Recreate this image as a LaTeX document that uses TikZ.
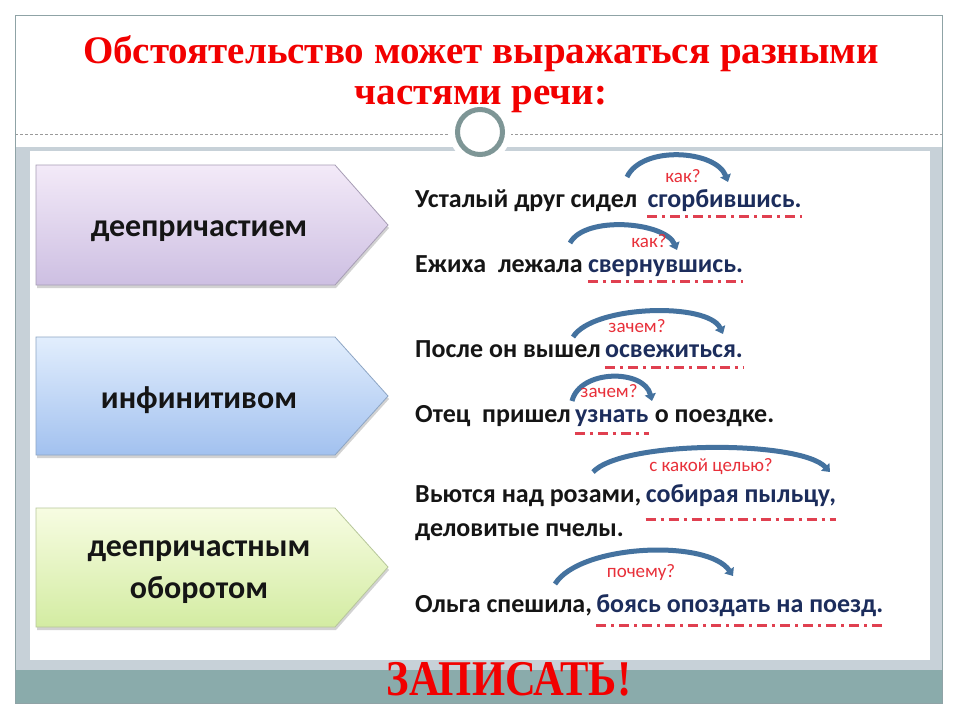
\documentclass[tikz,border=0pt]{standalone}
\usepackage{fontspec}
\setmainfont{Liberation Serif}
\newfontfamily\calfont{Carlito}
\newfontfamily\titlefont{Liberation Serif}
\newfontfamily\zapfont[FakeStretch=0.85]{Liberation Serif}
\usetikzlibrary{arrows.meta,shadows}
\definecolor{titlered}{HTML}{F20000}
\definecolor{framegray}{HTML}{8FA3A6}
\definecolor{bandgray}{HTML}{C7D1D8}
\definecolor{bandteal}{HTML}{8AABAB}
\definecolor{ringgray}{HTML}{7E9696}
\definecolor{dashgray}{HTML}{9A9A9A}
\definecolor{navyword}{HTML}{1C2D5C}
\definecolor{blacktext}{HTML}{151515}
\definecolor{arcblue}{HTML}{44729F}
\definecolor{qred}{HTML}{E8303A}
\definecolor{ulred}{HTML}{E04050}
\definecolor{lavtop}{HTML}{F3EAF8}
\definecolor{lavbot}{HTML}{CDBFE2}
\definecolor{lavdraw}{HTML}{A79DB5}
\definecolor{blutop}{HTML}{E2EEFD}
\definecolor{blubot}{HTML}{A2C1EF}
\definecolor{bludraw}{HTML}{8DA5C4}
\definecolor{grntop}{HTML}{F7FCE2}
\definecolor{grnbot}{HTML}{D3ECA2}
\definecolor{grndraw}{HTML}{B7C79A}
\tikzset{
  titletext/.style={inner sep=0pt, anchor=base, text=titlered,
    font=\titlefont\bfseries\fontsize{39}{39}\selectfont},
  bigtext/.style={inner sep=0pt, anchor=base, text=titlered,
    font=\zapfont\bfseries\fontsize{50}{50}\selectfont},
  boxshape/.style={line width=0.8pt, drop shadow={opacity=0.35, shadow xshift=1pt, shadow yshift=-3pt}},
  boxlabel/.style={inner sep=0pt, anchor=base, text=blacktext, align=center,
    font=\calfont\bfseries\fontsize{32}{42}\selectfont},
  sent/.style={inner sep=0pt, anchor=base west, text=blacktext,
    font=\calfont\bfseries\fontsize{26}{33}\selectfont},
  navy/.style={sent, text=navyword},
  qlabel/.style={inner sep=0pt, anchor=base, text=qred,
    font=\calfont\fontsize{19}{19}\selectfont},
  arcline/.style={draw=arcblue, line width=5pt, -{Triangle[length=7pt,width=11pt]}},
  ulline/.style={draw=ulred, line width=3pt, dash pattern=on 10pt off 5pt on 3pt off 5pt},
}
\begin{document}
\begin{tikzpicture}[x=1pt,y=-1pt]
\useasboundingbox (0,0) rectangle (960,720);
\fill[white] (0,0) rectangle (960,720);
% slide frame
\fill[bandgray] (15,147) rectangle (942,670);
\fill[bandteal] (15,670) rectangle (942,703);
\fill[white] (30,151) rectangle (930,660);
\draw[dashgray, line width=1pt, dash pattern=on 3pt off 2pt] (15,134) -- (942,134);
\draw[framegray, line width=1pt] (15,15) rectangle (942,703);
% ring
\fill[white] (480,132) circle[radius=31pt];
\draw[ringgray, line width=5pt, fill=white] (480,132) circle[radius=22.5pt];
% title
\node[titletext] (t1) at (481,63) {Обстоятельство может выражаться разными};
\node[titletext] (t2) at (481,104) {частями речи:};
% boxes
\path[boxshape, draw=lavdraw, top color=lavtop, bottom color=lavbot]
  (36,165) -- (335,165) -- (388,225) -- (335,285) -- (36,285) -- cycle;
\path[boxshape, draw=bludraw, top color=blutop, bottom color=blubot]
  (36,337) -- (335,337) -- (388,396) -- (335,455) -- (36,455) -- cycle;
\path[boxshape, draw=grndraw, top color=grntop, bottom color=grnbot]
  (36,508) -- (335,508) -- (388,567) -- (335,627) -- (36,627) -- cycle;
\node[boxlabel] (b1) at (199,236) {деепричастием};
\node[boxlabel] (b2) at (199,408) {инфинитивом};
\node[boxlabel] (b3) at (199,556) {деепричастным};
\node[boxlabel] (b3b) at (199,598) {оборотом};
% sentence 1
\node[sent] (s1a) at (415,207) {Усталый друг сидел};
\node[navy] (s1b) at ([xshift=10pt]s1a.base east) {сгорбившись.};
\draw[ulline] ([yshift=-9pt]s1b.base west) -- ([yshift=-9pt]s1b.base east);
\coordinate (a1s) at (627,177);
\coordinate (a1e) at (728,182);
\draw[arcline] (a1s) .. controls +(15,-32) and +(-12,-32) .. (a1e);
\node[qlabel] (q1) at (683,182) {как?};
% sentence 2
\node[sent] (s2a) at (415,272) {Ежиха \ лежала};
\node[navy] (s2b) at ([xshift=5pt]s2a.base east) {свернувшись.};
\draw[ulline] ([yshift=-9pt]s2b.base west) -- ([yshift=-9pt]s2b.base east);
\coordinate (a2s) at (570,243);
\coordinate (a2e) at (677,250);
\draw[arcline] (a2s) .. controls +(15,-28) and +(-12,-28) .. (a2e);
\node[qlabel] (q2) at (649,247) {как?};
% sentence 3
\node[sent] (s3a) at (415,357) {После он вышел};
\node[navy] (s3b) at ([xshift=4pt]s3a.base east) {освежиться.};
\draw[ulline] ([yshift=-10pt]s3b.base west) -- ([yshift=-10pt]s3b.base east);
\coordinate (a3s) at (573,337);
\coordinate (a3e) at (723,334);
\draw[arcline] (a3s) .. controls +(20,-32) and +(-15,-32) .. (a3e);
\node[qlabel] (q3) at (637,332) {зачем?};
% sentence 4
\node[sent] (s4a) at (415,422) {Отец \ пришел};
\node[navy] (s4b) at ([xshift=4pt]s4a.base east) {узнать};
\node[sent] (s4c) at ([xshift=6pt]s4b.base east) {о поездке.};
\draw[ulline] ([yshift=-11pt]s4b.base west) -- ([yshift=-11pt]s4b.base east);
\coordinate (a4s) at (572,401);
\coordinate (a4e) at (652,401);
\draw[arcline] (a4s) .. controls +(8,-32) and +(-8,-32) .. (a4e);
\node[qlabel] (q4) at (609,397) {зачем?};
% sentence 5
\node[sent] (s5a) at (415,502) {Вьются над розами,};
\node[navy] (s5b) at ([xshift=4pt]s5a.base east) {собирая пыльцу,};
\node[sent] (s5c) at (415,536) {деловитые пчелы.};
\draw[ulline] ([yshift=-17pt]s5b.base west) -- ([yshift=-17pt]s5b.base east);
\coordinate (a5s) at (593,472);
\coordinate (a5e) at (830,472);
\draw[arcline] (a5s) .. controls +(30,-32) and +(-30,-32) .. (a5e);
\node[qlabel] (q5) at (711,471) {с какой целью?};
% sentence 6
\node[sent] (s6a) at (415,612) {Ольга спешила,};
\node[navy] (s6b) at ([xshift=4pt]s6a.base east) {боясь опоздать на поезд.};
\draw[ulline] ([yshift=-13pt]s6b.base west) -- ([yshift=-13pt]s6b.base east);
\coordinate (a6s) at (555,584);
\coordinate (a6e) at (733,576);
\draw[arcline] (a6s) .. controls +(25,-40) and +(-25,-37) .. (a6e);
\node[qlabel] (q6) at (641,577) {почему?};
% bottom
\node[bigtext] (zap) at (509,695) {ЗАПИСАТЬ!};
\end{tikzpicture}
\end{document}
